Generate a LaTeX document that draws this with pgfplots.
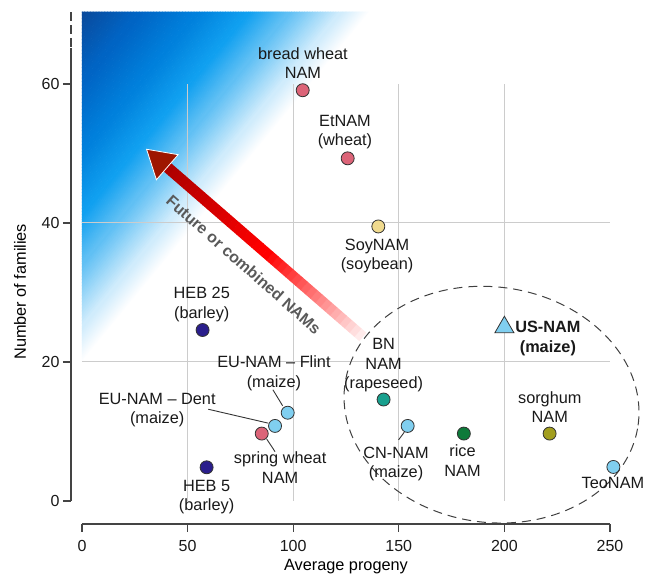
\documentclass[border=0pt]{standalone}
\usepackage{pgfplots}
\pgfplotsset{compat=1.18}
\usepackage{fontspec}
\setmainfont{Liberation Sans}
\definecolor{pinkc}{HTML}{DC6478}
\definecolor{lbluec}{HTML}{80CFF0}
\definecolor{navyc}{HTML}{2A1E8C}
\definecolor{tealc}{HTML}{18A08E}
\definecolor{greenc}{HTML}{0E7A3A}
\definecolor{olivec}{HTML}{A29E1E}
\definecolor{soyc}{HTML}{F0DA8E}
\definecolor{gridc}{HTML}{CCCCCC}
\definecolor{axisc}{HTML}{444444}
\definecolor{headc}{HTML}{9E1600}
\definecolor{g0}{HTML}{FFFFFF}
\definecolor{g1}{HTML}{D0ECFC}
\definecolor{g2}{HTML}{60C0F4}
\definecolor{g3}{HTML}{10A0F0}
\definecolor{g4}{HTML}{0080DC}
\definecolor{g5}{HTML}{0064C4}
\definecolor{g6}{HTML}{0A4A9C}
\newcommand\gseg[4]{%
  \foreach \s in {0,...,19}{%
    \pgfmathsetmacro\pp{100-100*\s/19}%
    \fill[#3!\pp!#4] (-60pt,{(#1+(#2-#1)*\s/20)*1pt}) rectangle (520pt,{(#1+(#2-#1)*(\s+1)/20+0.5)*1pt});
  }%
}
\tikzset{lab/.style={font=\fontsize{16.3}{19.5}\selectfont, align=center, inner sep=0pt, text=black!90}}
\begin{document}
\begin{tikzpicture}
\useasboundingbox (-82pt,-74pt) rectangle (564pt,501pt);
% background gradient (axis units: 2.112pt per x unit, 6.9503pt per y unit)
\begin{scope}
\clip (0pt,139.0pt) -- (0pt,489.3pt) -- (288.1pt,489.3pt) -- cycle;
\begin{scope}[shift={(0pt,139.0pt)}, rotate=50.56]
\gseg{0}{22.25}{g0}{g1}
\gseg{22.25}{62.3}{g1}{g2}
\gseg{62.3}{93.45}{g2}{g3}
\gseg{93.45}{133.5}{g3}{g4}
\gseg{133.5}{178}{g4}{g5}
\gseg{178}{222.5}{g5}{g6}
\fill[g6] (-60pt,222pt) rectangle (520pt,300pt);
\end{scope}
\end{scope}
\begin{axis}[
  at={(0pt,0pt)}, anchor=origin,
  scale only axis, width=528pt, height=489.3pt,
  xmin=0, xmax=250, ymin=0, ymax=70.4,
  clip=false,
  axis x line*=bottom, axis y line*=left,
  axis x line shift=23pt, axis y line shift=11pt,
  x axis line style={axisc, line width=1.1pt},
  y axis line style={draw=none},
  xtick={0,50,100,150,200,250}, ytick={0,20,40,60},
  tick align=outside, major tick length=8pt,
  tick style={axisc, line width=1.1pt},
  ticklabel style={font=\fontsize{16}{18}\selectfont, text=black!90},
  xticklabel style={yshift=-4.5pt},
  /pgf/number format/assume math mode=true,
]
\draw[gridc, line width=1pt] (axis cs:50,0) -- (axis cs:50,60);
\draw[gridc, line width=1pt] (axis cs:100,0) -- (axis cs:100,60);
\draw[gridc, line width=1pt] (axis cs:150,0) -- (axis cs:150,60);
\draw[gridc, line width=1pt] (axis cs:200,0) -- (axis cs:200,60);
\draw[gridc, line width=1pt] (axis cs:0,20) -- (axis cs:250,20);
\draw[gridc, line width=1pt] (axis cs:0,40) -- (axis cs:250,40);
\draw[axisc, line width=1.1pt] ([xshift=-11pt]axis cs:0,0) -- ([xshift=-11pt]axis cs:0,65.2);
\draw[axisc, line width=1.1pt, dash pattern=on 9pt off 4pt] ([xshift=-11pt]axis cs:0,70.3) -- ([xshift=-11pt]axis cs:0,65.2);
\draw[black!75, line width=1pt, dash pattern=on 9pt off 6pt, rotate around={-8:(axis cs:193.9,13.86)}] (axis cs:193.9,13.86) ellipse [x radius=148pt, y radius=117.7pt];
% leader lines
\draw[black!80, line width=0.9pt] (axis cs:90.4,16.0) -- (axis cs:95.0,13.7);
\draw[black!80, line width=0.9pt] (axis cs:59.8,13.2) -- (axis cs:88.2,11.2);
\draw[black!80, line width=0.9pt] (axis cs:87.5,8.9) -- (axis cs:91.4,7.1);
\draw[black!80, line width=0.9pt] (axis cs:152.6,9.9) -- (axis cs:149.9,8.8);
% points
\addplot[only marks, mark=*, mark size=6.5pt, mark options={fill=lbluec, draw=black!80, line width=0.8pt}] coordinates {(97.4,12.7) (91.4,10.8) (154.2,10.8) (251.6,4.9)};
\addplot[only marks, mark=*, mark size=6.5pt, mark options={fill=pinkc, draw=black!80, line width=0.8pt}] coordinates {(104.5,59.1) (125.8,49.3) (85.1,9.7)};
\addplot[only marks, mark=*, mark size=6.5pt, mark options={fill=soyc, draw=black!80, line width=0.8pt}] coordinates {(140.3,39.5)};
\addplot[only marks, mark=*, mark size=6.5pt, mark options={fill=navyc, draw=black!80, line width=0.8pt}] coordinates {(57.1,24.6) (59.0,4.85)};
\addplot[only marks, mark=*, mark size=6.5pt, mark options={fill=tealc, draw=black!80, line width=0.8pt}] coordinates {(142.8,14.6)};
\addplot[only marks, mark=*, mark size=6.5pt, mark options={fill=greenc, draw=black!80, line width=0.8pt}] coordinates {(180.8,9.7)};
\addplot[only marks, mark=*, mark size=6.5pt, mark options={fill=olivec, draw=black!80, line width=0.8pt}] coordinates {(221.4,9.7)};
\addplot[only marks, mark=triangle*, mark size=11pt, mark options={fill=lbluec, draw=black!80, line width=0.8pt}] coordinates {(200,25)};
% labels
\node[lab] at (axis cs:104.6,63.0) {bread wheat\\NAM};
\node[lab] at (axis cs:124.5,53.1) {EtNAM\\(wheat)};
\node[lab] at (axis cs:139.7,35.25) {SoyNAM\\(soybean)};
\node[lab] at (axis cs:56.7,28.3) {HEB 25\\(barley)};
\node[lab] at (axis cs:59.0,0.58) {HEB 5\\(barley)};
\node[lab] at (axis cs:90.9,18.4) {EU-NAM -- Flint\\(maize)};
\node[lab] at (axis cs:35.6,13.1) {EU-NAM -- Dent\\(maize)};
\node[lab] at (axis cs:93.8,4.8) {spring wheat\\NAM};
\node[lab] at (axis cs:142.8,19.5) {BN\\NAM\\(rapeseed)};
\node[lab] at (axis cs:148.7,5.3) {CN-NAM\\(maize)};
\node[lab] at (axis cs:180.2,5.8) {rice\\NAM};
\node[lab] at (axis cs:221.5,13.5) {sorghum\\NAM};
\node[lab] at (axis cs:251.4,2.6) {TeoNAM};
\node[lab, font=\fontsize{16.3}{19.5}\selectfont\bfseries] at (axis cs:220.6,23.4) {US-NAM\\(maize)};
\node[rotate=-41.5, font=\fontsize{16}{19}\selectfont\bfseries, text=black!65, inner sep=0pt] at (axis cs:76.6,34.0) {Future or combined NAMs};
\node[font=\fontsize{16.3}{19}\selectfont, inner sep=0pt] at ([yshift=-66pt]axis cs:125,0) {Average progeny};
\node[rotate=90, font=\fontsize{16.3}{19}\selectfont, inner sep=0pt] at ([xshift=-62pt]axis cs:0,30.1) {Number of families};
\coordinate (tail) at (axis cs:133,23.6);
\end{axis}
\begin{scope}[shift={(tail)}, rotate=139.05]
\foreach \i in {0,...,19}{\pgfmathsetmacro\p{8+92*\i/19}\fill[red!\p!white] ({\i*6.475pt},-5.5pt) rectangle ({(\i+1)*6.475pt+0.4pt},5.5pt);}
\foreach \j in {0,...,19}{\pgfmathsetmacro\q{100-32*\j/19}\fill[red!\q!black] ({(20+\j)*6.475pt},-5.5pt) rectangle ({(21+\j)*6.475pt+0.4pt},5.5pt);}
\fill[headc, draw=white, line width=0.8pt] (259pt,-16.6pt) -- (286.4pt,0pt) -- (259pt,16.6pt) -- cycle;
\end{scope}
\end{tikzpicture}
\end{document}
